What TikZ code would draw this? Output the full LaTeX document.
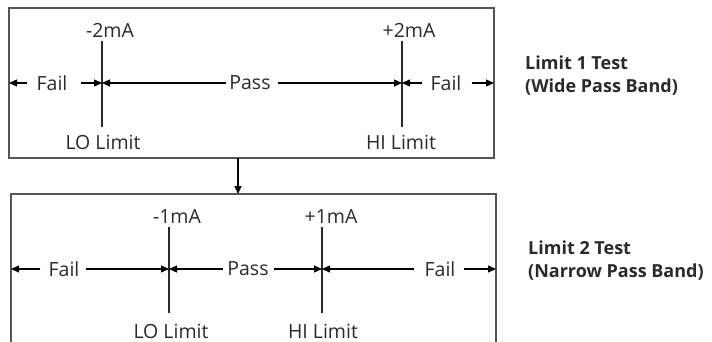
\documentclass[tikz,border=0pt]{standalone}
\usepackage{fontspec}
\setmainfont{Open Sans}
\usetikzlibrary{arrows.meta}
\definecolor{boxgray}{HTML}{555555}
\definecolor{txt}{HTML}{2A2A2A}
\tikzset{
  lbl/.style={inner sep=0pt, text=txt, font=\fontsize{19.5}{23}\selectfont},
  ttl/.style={inner sep=0pt, text=txt, align=left, anchor=west, font=\fontsize{18}{23}\selectfont\bfseries},
  arr/.style={-{Triangle[length=8pt,width=7pt]}, line width=1.1pt, black},
  limline/.style={line width=1.1pt, draw=txt},
  boxline/.style={line width=1.3pt, draw=boxgray},
}
\begin{document}
\begin{tikzpicture}[x=1pt,y=-1pt]
\useasboundingbox (0,0) rectangle (712,342);
% ---------- top box ----------
\draw[boxline] (9,8) rectangle (494,158);
\coordinate (t1L) at (9,83);
\coordinate (t1R) at (494,83);
\coordinate (lo1) at (102,83);
\coordinate (hi1) at (402,83);
\coordinate (lo1t) at (102,41);
\coordinate (lo1b) at (102,127);
\coordinate (hi1t) at (402,41);
\coordinate (hi1b) at (402,127);
\draw[limline] (lo1t) -- (lo1b);
\draw[limline] (hi1t) -- (hi1b);
\node[lbl] (m2) at (110,30) {-2mA};
\node[lbl] (lo1l) at (103,142) {LO Limit};
\node[lbl] (p2) at (409,30) {+2mA};
\node[lbl] (hi1l) at (401,142) {HI Limit};
\node[lbl] (f1a) at (52,83) {Fail};
\node[lbl] (p1) at (250,83) {Pass};
\node[lbl] (f1b) at (446,83) {Fail};
\draw[arr, shorten <=9pt] (f1a.west) -- (t1L);
\draw[arr, shorten <=13pt] (f1a.east) -- (lo1);
\draw[arr, shorten <=3pt] (p1.west) -- (lo1);
\draw[arr, shorten <=7pt] (p1.east) -- (hi1);
\draw[arr, shorten <=8pt] (f1b.west) -- (hi1);
\draw[arr, shorten <=10pt] (f1b.east) -- (t1R);
\node[ttl] (ttl1) at (525,76) {Limit 1 Test\\(Wide Pass Band)};
% ---------- connector ----------
\coordinate (c1) at (238,158);
\coordinate (c2) at (238,194);
\draw[arr] (c1) -- (c2);
% ---------- bottom box ----------
\draw[boxline] (11,342) -- (11,194) -- (496,194) -- (496,342);
\coordinate (t2L) at (11,269);
\coordinate (t2R) at (496,269);
\coordinate (lo2) at (169,269);
\coordinate (hi2) at (322,269);
\coordinate (lo2t) at (169,227);
\coordinate (lo2b) at (169,313);
\coordinate (hi2t) at (322,227);
\coordinate (hi2b) at (322,313);
\draw[limline] (lo2t) -- (lo2b);
\draw[limline] (hi2t) -- (hi2b);
\node[lbl] (m1) at (177,217) {-1mA};
\node[lbl] (lo2l) at (171,331) {LO Limit};
\node[lbl] (p1m) at (331,217) {+1mA};
\node[lbl] (hi2l) at (323,331) {HI Limit};
\node[lbl] (f2a) at (64,269) {Fail};
\node[lbl] (p2b) at (248,269) {Pass};
\node[lbl] (f2b) at (440,269) {Fail};
\draw[arr, shorten <=8pt] (f2a.west) -- (t2L);
\draw[arr, shorten <=6pt] (f2a.east) -- (lo2);
\draw[arr, shorten <=4pt] (p2b.west) -- (lo2);
\draw[arr, shorten <=5pt] (p2b.east) -- (hi2);
\draw[arr, shorten <=10pt] (f2b.west) -- (hi2);
\draw[arr, shorten <=8pt] (f2b.east) -- (t2R);
\node[ttl] (ttl2) at (528,261) {Limit 2 Test\\(Narrow Pass Band)};
\end{tikzpicture}
\end{document}
